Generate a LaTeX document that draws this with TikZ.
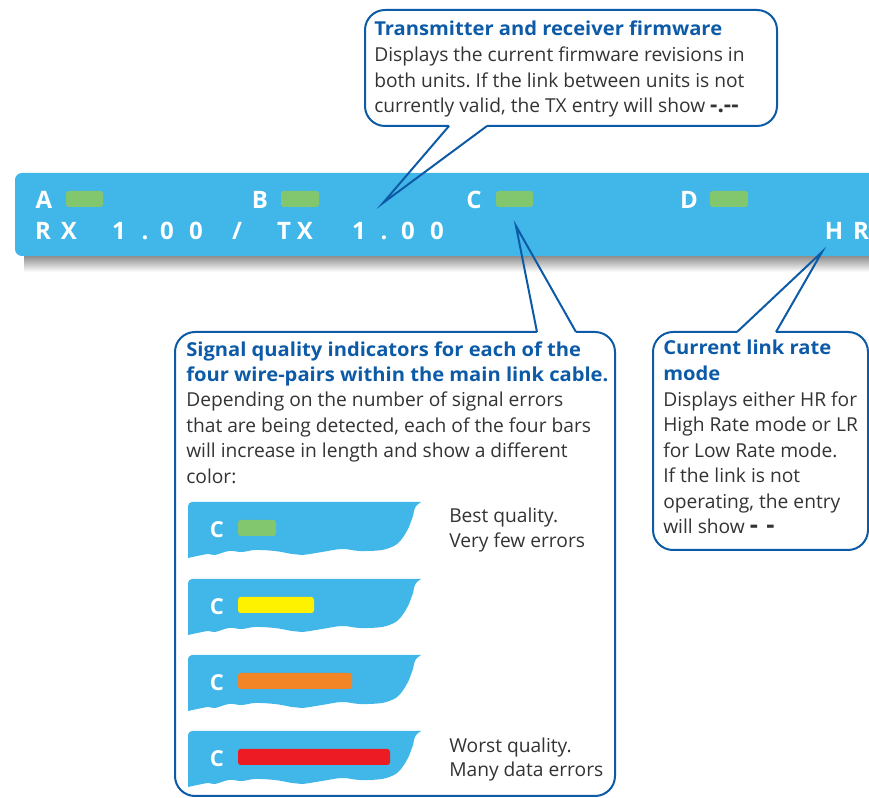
\documentclass[tikz,border=0pt]{standalone}
\usepackage{fontspec}
\setmainfont{Open Sans}
\newfontfamily\titlefont{Open Sans}[FakeStretch=1.05]
\usetikzlibrary{calc}
\frenchspacing
\definecolor{barblue}{HTML}{41B6E8}
\definecolor{calloutblue}{HTML}{0D5AA7}
\definecolor{txtgray}{HTML}{333333}
\definecolor{qgreen}{HTML}{82C66E}
\definecolor{qyellow}{HTML}{FFF200}
\definecolor{qorange}{HTML}{F28525}
\definecolor{qred}{HTML}{ED1C24}
\newcommand{\bodyfont}{\fontsize{14.4}{19}\selectfont}
\newcommand{\qualitybar}[4]{%
  \begin{scope}[shift={(188,#1)}]
    \fill[barblue] (0,56) -- (0,4) .. controls (0,2) and (2,0) .. (4,0) -- (233,0) -- (229,3)
      .. controls (226,6) and (226,10) .. (225,14) -- (221,25)
      .. controls (217,33) and (212,41) .. (206,44)
      -- plot[smooth, tension=0.6] coordinates {(206,44) (194,48) (172,49) (154,47) (134,50) (114,53) (104,52) (87,49) (67,48) (54,50) (41,49) (27,53) (21,52) (14,53) (0,56)}
      -- cycle;
    \node[samplech] (#4) at (29,36) {C};
    \fill[#2, rounded corners=2] (50,18) rectangle ++(#3,16);
  \end{scope}}
\begin{document}
\begin{tikzpicture}[x=0.75pt,y=-0.75pt,
  barch/.style={font=\fontsize{18}{18}\selectfont\bfseries, text=white, inner sep=0, anchor=base},
  samplech/.style={font=\fontsize{16.5}{16.5}\selectfont\bfseries, text=white, inner sep=0, anchor=base},
  ind/.style={fill=qgreen, rounded corners=2},
  txt/.style={anchor=base west, inner sep=0, font=\bodyfont, text=txtgray},
  ttl/.style={anchor=base west, inner sep=0, font=\bodyfont\titlefont\bfseries, text=calloutblue},
  callout/.style={draw=calloutblue, line width=1.5pt, rounded corners=15},
  pointer/.style={draw=calloutblue, line width=1.5pt, line join=miter}]
\useasboundingbox (0,0) rectangle (869,798);

% ---- display bar ----
\shade[top color=black!50, bottom color=white] (24,254) rectangle (869,272);
\fill[barblue] (869,173) -- (22,173) .. controls (18,173) and (15,176) .. (15,180) -- (15,249)
  .. controls (15,253) and (18,256) .. (22,256) -- (869,256) -- cycle;

\node[barch] (lA) at (44,209) {A};
\node[barch] (lB) at (260,209) {B};
\node[barch] (lC) at (474,209) {C};
\node[barch] (lD) at (689,209) {D};
\fill[ind] (66,191) rectangle (103,207);
\fill[ind] (281,191) rectangle (319,207);
\fill[ind] (496,191) rectangle (533,207);
\fill[ind] (710,191) rectangle (748,207);

\node[barch] (r1) at (43,240) {R};
\node[barch] (r2) at (69,240) {X};
\node[barch] (r3) at (119,240) {1};
\node[barch] (r4) at (145,240) {.};
\node[barch] (r5) at (167,240) {0};
\node[barch] (r6) at (196,240) {0};
\node[barch] (r7) at (237,240) {/};
\node[barch] (r8) at (284,240) {T};
\node[barch] (r9) at (305,240) {X};
\node[barch] (r10) at (359,240) {1};
\node[barch] (r11) at (384,240) {.};
\node[barch] (r12) at (408,240) {0};
\node[barch] (r13) at (437,240) {0};
\node[barch] (h1) at (834,240) {H};
\node[barch] (h2) at (861,240) {R};

% ---- pointer tips ----
\coordinate (fwtip) at (383,203);
\coordinate (sqtip) at (516,226);
\coordinate (hrtip) at (822,252);

% ---- top callout ----
\draw[callout] (487,126) -- (777,126) -- (777,10) -- (365,10) -- (365,126) -- (449,126);
\draw[pointer] (449,126) -- (fwtip) -- (487,126);
\node[ttl] (fw1) at (374,36) {Transmitter and receiver firmware};
\node[txt] (fw2) at (374,62) {Displays the current firmware revisions in};
\node[txt] (fw3) at (374,88) {both units. If the link between units is not};
\node[txt] (fw4) at (374,113) {currently valid, the TX entry will show {\fontsize{17}{17}\selectfont\bfseries -.{-}{-}}};

% ---- signal quality callout ----
\draw[callout] (576,332) -- (615,332) -- (615,796) -- (175,796) -- (175,332) -- (537,332);
\draw[pointer] (537,332) -- (sqtip) -- (576,332);
\node[ttl] (sq1) at (186,357) {Signal quality indicators for each of the};
\node[ttl] (sq2) at (186,382) {four wire-pairs within the main link cable.};
\node[txt] (sq3) at (186,407) {Depending on the number of signal errors};
\node[txt] (sq4) at (186,433) {that are being detected, each of the four bars};
\node[txt] (sq5) at (186,458) {will increase in length and show a different};
\node[txt] (sq6) at (186,484) {color:};

\qualitybar{502}{qgreen}{38}{c1}
\qualitybar{579}{qyellow}{76}{c2}
\qualitybar{655}{qorange}{114}{c3}
\qualitybar{731}{qred}{152}{c4}

\node[txt] (best1) at (449,523) {Best quality.};
\node[txt] (best2) at (449,548) {Very few errors};
\node[txt] (worst1) at (449,753) {Worst quality.};
\node[txt] (worst2) at (449,777) {Many data errors};

% ---- link rate callout ----
\draw[callout] (776,332) -- (868,332) -- (868,550) -- (653,550) -- (653,332) -- (737,332);
\draw[pointer] (737,332) -- (hrtip) -- (776,332);
\node[ttl] (lr1) at (663,355) {Current link rate};
\node[ttl] (lr2) at (663,381) {mode};
\node[txt] (lr3) at (663,407) {Displays either HR for};
\node[txt] (lr4) at (663,432) {High Rate mode or LR};
\node[txt] (lr5) at (663,458) {for Low Rate mode.};
\node[txt] (lr6) at (663,483) {If the link is not};
\node[txt] (lr7) at (663,509) {operating, the entry};
\node[txt] (lr8) at (663,534) {will show {\fontsize{19}{19}\selectfont\bfseries -\,\,-}};
\end{tikzpicture}
\end{document}
